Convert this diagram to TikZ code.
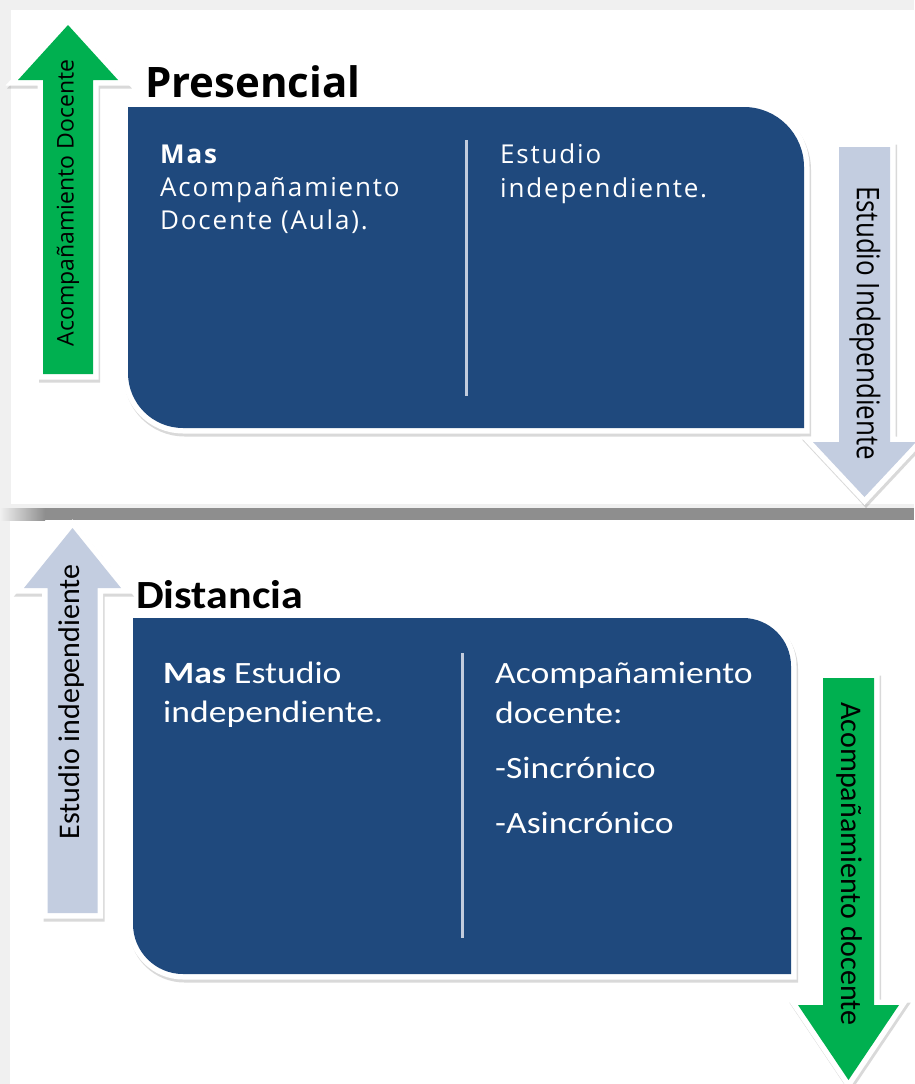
\documentclass[tikz,border=0pt]{standalone}
\usepackage{fontspec}
\usepackage{graphicx}
\newfontfamily\osans{Open Sans}
\newfontfamily\osansls[LetterSpace=7]{Open Sans}
\newfontfamily\carl{Carlito}
\definecolor{boxblue}{HTML}{1F497D}
\definecolor{agreen}{HTML}{00B050}
\definecolor{lblue}{HTML}{C3CDE0}
\definecolor{divline}{HTML}{C2CCDD}
\definecolor{bggrey}{HTML}{F0F0F0}
\definecolor{bargrey}{HTML}{8E8E8E}
\newcommand\myBoxTop[1]{\path[#1] (128,107) -- (744,107) .. controls (777.1,107) and (804,133.9) .. (804,167) -- (804,428) -- (183,428) .. controls (152.6,428) and (128,403.4) .. (128,373) -- cycle;}
\newcommand\myBoxBot[1]{\path[#1] (133,618) -- (743,618) .. controls (769.5,618) and (791,639.5) .. (791,666) -- (791,974) -- (183,974) .. controls (155.4,974) and (133,951.6) .. (133,924) -- cycle;}
% #1 style, #2 cx, #3 tip y, #4 head base y, #5 end y, #6 half shaft, #7 half head
\newcommand\myVArrow[7]{\path[#1] ({#2-#6},#5) -- ({#2-#6},#4) -- ({#2-#7},#4) -- (#2,#3) -- ({#2+#7},#4) -- ({#2+#6},#4) -- ({#2+#6},#5) -- cycle;}
\begin{document}
\begin{tikzpicture}[x=1pt,y=-1pt,
  shadowst/.style={draw=black, line width=11pt, fill=black, opacity=0.15, line join=miter},
  whiteborder/.style={draw=white, line width=11pt, line join=miter},
  divider/.style={draw=divline, line width=3pt},
  topbox/.style={anchor=base west, inner sep=0pt, text=white, font=\osansls\fontsize{26}{30}\selectfont},
  botbox/.style={anchor=base west, inner sep=0pt, text=white, font=\carl\fontsize{31}{36}\selectfont},
  arrtxt/.style={inner sep=0pt, text=black},
  title/.style={anchor=base west, inner sep=0pt, text=black}]
\useasboundingbox (0,0) rectangle (914,1084);
% background panels
\fill[bggrey] (0,0) rectangle (914,1084);
\fill[white] (11,10) rectangle (914,504);
\fill[white] (10,520) rectangle (914,1084);
\shade[left color=bggrey, right color=bargrey] (0,508) rectangle (45,520);
\fill[bargrey] (45,508) rectangle (914,520);

% ---------- top panel ----------
\myBoxTop{shadowst, shift={(1.5,3)}}
\myBoxTop{whiteborder}
\myBoxTop{fill=boxblue}
\myVArrow{shadowst, shift={(1.5,3)}}{68}{25}{80}{374}{25}{50}
\myVArrow{whiteborder}{68}{25}{80}{374}{25}{50}
\myVArrow{fill=agreen}{68}{25}{80}{374}{25}{50}
\myVArrow{shadowst, shift={(1.5,3)}}{864.5}{497}{442}{147}{25.5}{51.5}
\myVArrow{whiteborder}{864.5}{497}{442}{147}{25.5}{51.5}
\myVArrow{fill=lblue}{864.5}{497}{442}{147}{25.5}{51.5}

\node[title, font=\osans\bfseries\fontsize{42}{48}\selectfont] (t1) at (145,97) {Presencial};
\node[topbox] (a1) at (160,163) {\bfseries Mas};
\node[topbox] (a2) at (160,196) {Acompañamiento};
\node[topbox] (a3) at (160,229) {Docente (Aula).};
\node[topbox] (b1) at (500,163) {Estudio};
\node[topbox] (b2) at (500,197) {independiente.};
\coordinate (d1a) at (466,140);
\coordinate (d1b) at (466,396);
\draw[divider] (d1a) -- (d1b);
\node[arrtxt, rotate=90] (lt) at (68,203) {\osans\fontsize{23}{27}\selectfont Acompañamiento Docente};
\node[arrtxt, rotate=-90] (rt) at (865,323) {\scalebox{1}[1.2]{\osans\fontsize{26}{30}\selectfont Estudio Independiente}};

% ---------- bottom panel ----------
\myBoxBot{shadowst, shift={(1.5,3)}}
\myBoxBot{whiteborder}
\myBoxBot{fill=boxblue}
\myVArrow{shadowst, shift={(1.5,3)}}{72.5}{528}{588}{913}{25}{48.5}
\myVArrow{whiteborder}{72.5}{528}{588}{913}{25}{48.5}
\myVArrow{fill=lblue}{72.5}{528}{588}{913}{25}{48.5}
\myVArrow{shadowst, shift={(1.5,3)}}{848.5}{1080}{1005}{678}{25.5}{50.5}
\myVArrow{whiteborder}{848.5}{1080}{1005}{678}{25.5}{50.5}
\myVArrow{fill=agreen}{848.5}{1080}{1005}{678}{25.5}{50.5}

\node[title, font=\carl\bfseries\fontsize{40}{46}\selectfont] (t2) at (136,608) {\scalebox{1.1}[1]{Distancia}};
\node[botbox] (c1) at (163,683) {\scalebox{1.15}[1]{\bfseries Mas\mdseries{} Estudio}};
\node[botbox] (c2) at (163,722) {\scalebox{1.15}[1]{independiente.}};
\node[botbox] (e1) at (495,683) {\scalebox{1.15}[1]{Acompañamiento}};
\node[botbox] (e2) at (495,723) {\scalebox{1.15}[1]{docente:}};
\node[botbox] (e3) at (495,778) {\scalebox{1.15}[1]{-Sincrónico}};
\node[botbox] (e4) at (495,833) {\scalebox{1.15}[1]{-Asincrónico}};
\coordinate (d2a) at (462,653);
\coordinate (d2b) at (462,938);
\draw[divider] (d2a) -- (d2b);
\node[arrtxt, rotate=90] (lb) at (72,702) {\carl\fontsize{30}{34}\selectfont Estudio independiente};
\node[arrtxt, rotate=-90] (rb) at (849,864) {\carl\fontsize{30}{34}\selectfont Acompañamiento docente};
\end{tikzpicture}
\end{document}
